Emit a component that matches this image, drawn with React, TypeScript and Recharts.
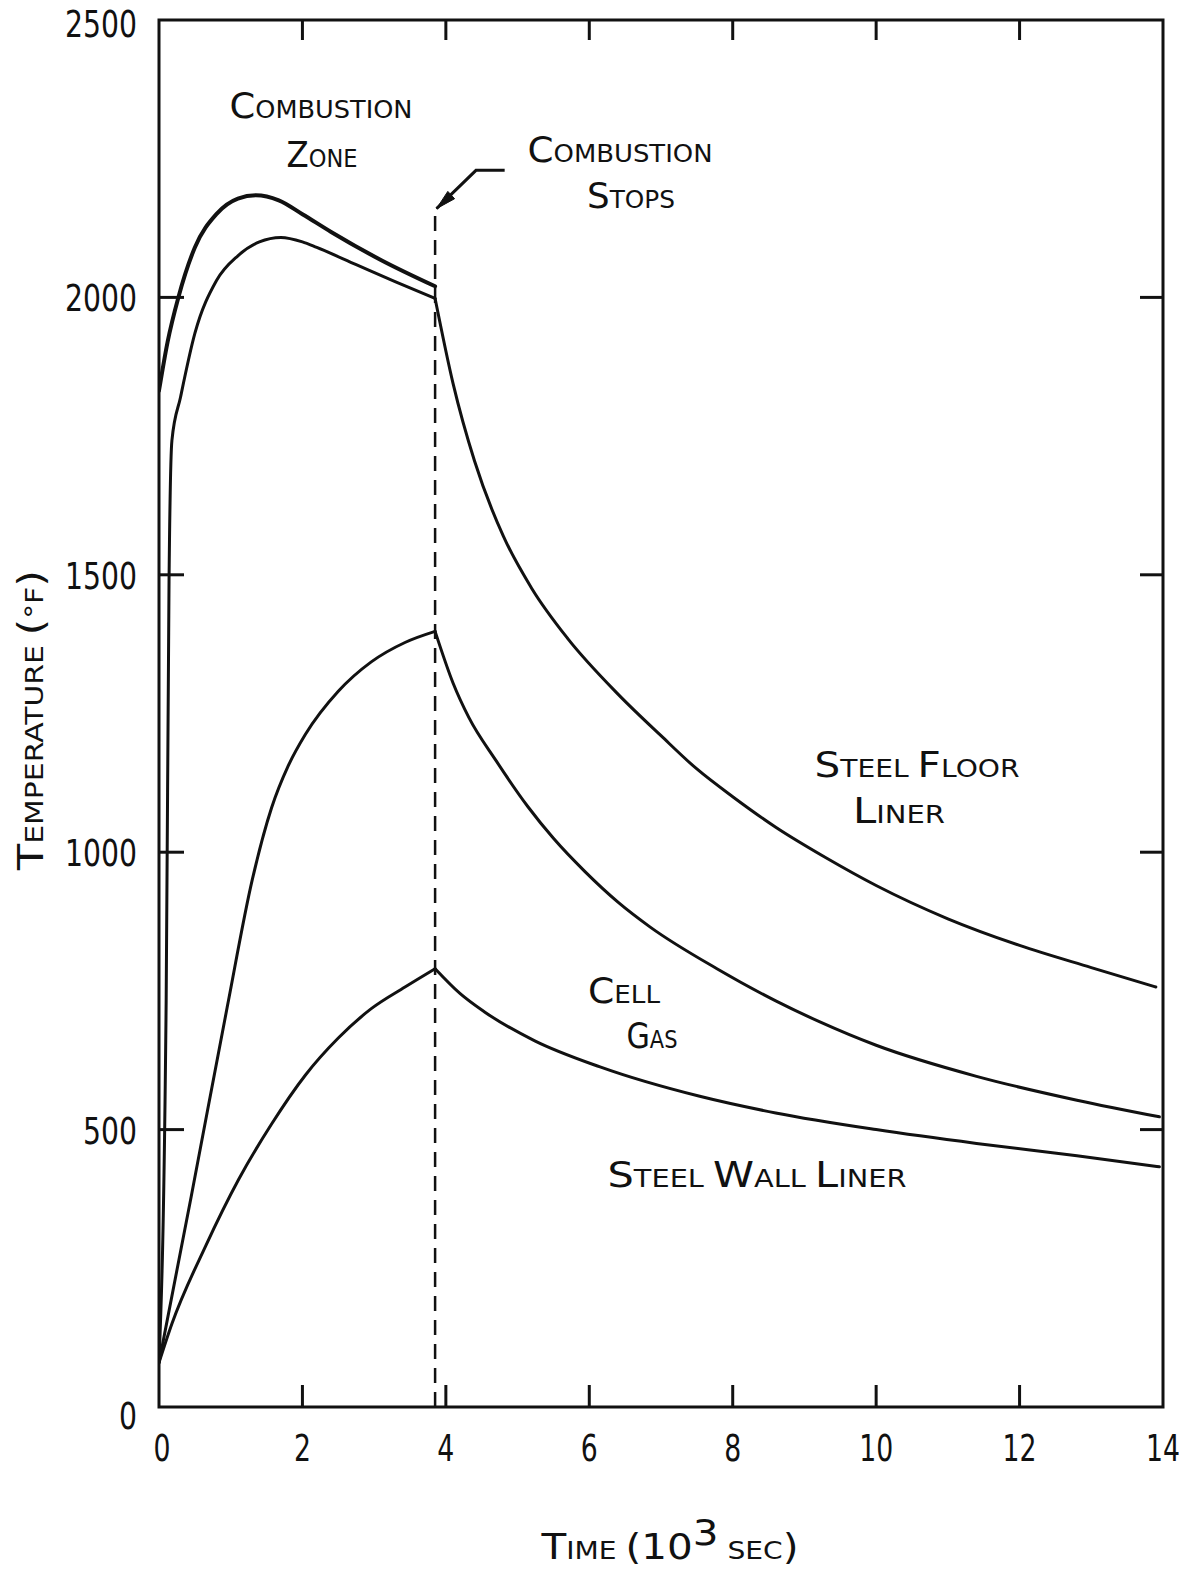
import React from 'react';
import { LineChart, Line, XAxis, YAxis, ReferenceArea, Customized } from 'recharts';

// ---- data (time in 10^3 sec, temperature in °F) ----
const timeTicks = [0, 2, 4, 6, 8, 10, 12, 14];
const tempTicks = [0, 500, 1000, 1500, 2000, 2500];

const combustionZone = [
  [0, 1832], [0.12, 1920], [0.27, 2000], [0.5, 2090], [0.8, 2150], [1.1, 2178],
  [1.35, 2184], [1.67, 2175], [2.0, 2150], [2.4, 2118], [3.1, 2067], [3.85, 2020],
];
const floorRise = [
  [0, 80], [0.1, 733], [0.14, 1490], [0.18, 1742], [0.3, 1820], [0.5, 1935], [0.8, 2030],
  [1.1, 2075], [1.4, 2100], [1.7, 2108], [2.0, 2100], [2.2, 2090], [2.75, 2059], [3.3, 2028], [3.85, 1998],
];
const floorDecay = [
  [3.85, 1998], [4.1, 1845], [4.4, 1705], [4.8, 1570], [5.2, 1475], [5.7, 1385], [6.4, 1285],
  [7.0, 1210], [7.5, 1150], [8.0, 1100], [8.6, 1045], [9.3, 990], [10, 940], [11, 880],
  [12, 832], [13, 792], [13.9, 757],
];
const gasRise = [
  [0, 80], [0.45, 380], [0.95, 720], [1.3, 950], [1.57, 1080], [1.8, 1155], [2.04, 1212],
  [2.5, 1290], [2.96, 1343], [3.43, 1378], [3.85, 1398],
];
const gasDecay = [
  [3.85, 1398], [4.1, 1305], [4.32, 1243], [4.7, 1165], [5.15, 1081], [5.5, 1025], [5.94, 965],
  [6.4, 910], [6.85, 865], [7.78, 790], [8.6, 732], [9.2, 695], [10, 652], [11.4, 596],
  [12.8, 553], [13.95, 523],
];
const wallRise = [
  [0, 80], [0.18, 150], [0.65, 290], [1.11, 410], [1.57, 510], [2.04, 598], [2.5, 665],
  [2.96, 718], [3.43, 757], [3.85, 790],
];
const wallDecay = [
  [3.85, 790], [4.2, 745], [4.54, 712], [5.24, 660], [6.15, 613], [7.54, 560], [8.6, 530],
  [10, 500], [11.4, 475], [12.8, 453], [13.95, 433],
];
const combustionStops = [[3.85, 0], [3.85, 2162]];
const stopsArrow = [[4.82, 2229], [4.42, 2229], [3.87, 2160]];

const pts = (a: number[][]) => a.map(([t, v]) => ({ t, v }));

// ---- layout (svg coordinates) ----
const W = 1179;
const H = 1564;
const PL = 151;
const PR = 1155;
const PT = 12;
const PB = 1399;
const INK = '#111';
const FONT = "'DejaVu Sans', 'Liberation Sans', sans-serif";
const BIG = 36;
const SMALL = 25;

type Part = { s: string; big?: boolean; dy?: number };
const CapsText = ({ x, y, parts, width, rotate }: { x: number; y: number; parts: Part[]; width: number; rotate?: boolean }) => (
  <text
    x={x}
    y={y}
    textAnchor="middle"
    textLength={width}
    lengthAdjust="spacingAndGlyphs"
    fill={INK}
    fontFamily={FONT}
    transform={rotate ? `rotate(-90 ${x} ${y})` : undefined}
  >
    {parts.map((p, i) => (
      <tspan key={i} fontSize={p.big ? BIG : SMALL} dy={p.dy}>{p.s}</tspan>
    ))}
  </text>
);

const annotations: { x: number; y: number; w: number; parts: Part[] }[] = [
  { x: 313, y: 110, w: 183, parts: [{ s: 'C', big: true }, { s: 'OMBUSTION' }] },
  { x: 314, y: 159, w: 71, parts: [{ s: 'Z', big: true }, { s: 'ONE' }] },
  { x: 612, y: 154, w: 185, parts: [{ s: 'C', big: true }, { s: 'OMBUSTION' }] },
  { x: 623, y: 200, w: 88, parts: [{ s: 'S', big: true }, { s: 'TOPS' }] },
  { x: 909, y: 769, w: 205, parts: [{ s: 'S', big: true }, { s: 'TEEL ' }, { s: 'F', big: true }, { s: 'LOOR' }] },
  { x: 891, y: 815, w: 92, parts: [{ s: 'L', big: true }, { s: 'INER' }] },
  { x: 616, y: 995, w: 72, parts: [{ s: 'C', big: true }, { s: 'ELL' }] },
  { x: 644, y: 1040, w: 51, parts: [{ s: 'G', big: true }, { s: 'AS' }] },
  { x: 749, y: 1179, w: 299, parts: [{ s: 'S', big: true }, { s: 'TEEL ' }, { s: 'W', big: true }, { s: 'ALL ' }, { s: 'L', big: true }, { s: 'INER' }] },
];

const Annotations = () => (
  <g>
    {annotations.map((a, i) => (
      <CapsText key={i} x={a.x} y={a.y} width={a.w} parts={a.parts} />
    ))}
    <CapsText
      x={35}
      y={712}
      width={300}
      rotate
      parts={[{ s: 'T', big: true }, { s: 'EMPERATURE ' }, { s: '(', big: true }, { s: '°F' }, { s: ')', big: true }]}
    />
    <CapsText
      x={662}
      y={1551}
      width={257}
      parts={[
        { s: 'T', big: true },
        { s: 'IME ' },
        { s: '(10', big: true },
        { s: '3', big: true, dy: -14 },
        { s: ' SEC', dy: 14 },
        { s: ')', big: true },
      ]}
    />
  </g>
);

const XTick = (props: any) => {
  const { x, payload } = props;
  const cx = payload?.coordinate ?? x;
  const v = payload.value as number;
  const label = String(v);
  return (
    <g>
      {v > 0 && v < 14 && (
        <>
          <line x1={cx} x2={cx} y1={PB} y2={PB - 22} stroke={INK} strokeWidth={3} />
          <line x1={cx} x2={cx} y1={PT} y2={PT + 20} stroke={INK} strokeWidth={3} />
        </>
      )}
      <text
        x={cx + (v === 0 ? 3 : 0)}
        y={1453}
        textAnchor="middle"
        fontSize={38}
        fontFamily={FONT}
        fill={INK}
        textLength={label.length * 17}
        lengthAdjust="spacingAndGlyphs"
      >
        {label}
      </text>
    </g>
  );
};

const YTick = (props: any) => {
  const { y, payload } = props;
  const cy = payload?.coordinate ?? y;
  const v = payload.value as number;
  const label = String(v);
  const shift = v === 0 ? 8 : v === 2500 ? 3 : 0;
  return (
    <g>
      {v > 0 && v < 2500 && (
        <>
          <line x1={PL} x2={PL + 25} y1={cy} y2={cy} stroke={INK} strokeWidth={3} />
          <line x1={PR} x2={PR - 23} y1={cy} y2={cy} stroke={INK} strokeWidth={3} />
        </>
      )}
      <text
        x={129}
        y={cy + 14 + shift}
        textAnchor="end"
        fontSize={38}
        fontFamily={FONT}
        fill={INK}
        textLength={label.length * 18}
        lengthAdjust="spacingAndGlyphs"
      >
        {label}
      </text>
    </g>
  );
};

const ArrowDot = (props: any) => {
  const { cx, cy, index } = props;
  if (index !== stopsArrow.length - 1 || cx == null) return <g key={`a${index}`} />;
  const ux = -0.734;
  const uy = 0.679;
  const bx = cx - 20 * ux;
  const by = cy - 20 * uy;
  const nx = 0.679;
  const ny = 0.734;
  const p = `${cx},${cy} ${bx + 5 * nx},${by + 5 * ny} ${bx - 5 * nx},${by - 5 * ny}`;
  return <polygon key={`a${index}`} points={p} fill={INK} stroke={INK} strokeWidth={1} />;
};

const curve = (key: string, data: number[][], width = 3) => (
  <Line
    key={key}
    data={pts(data)}
    dataKey="v"
    type="monotone"
    stroke={INK}
    strokeWidth={width}
    dot={false}
    activeDot={false}
    isAnimationActive={false}
    strokeLinejoin="round"
    strokeLinecap="round"
  />
);

export default function App() {
  return (
    <div style={{ width: W, height: H, background: '#fff' }}>
      <LineChart width={W} height={H} margin={{ top: PT, right: W - PR, bottom: 0, left: 0 }}>
        <XAxis
          type="number"
          dataKey="t"
          domain={[0, 14]}
          ticks={timeTicks}
          interval={0}
          axisLine={false}
          tickLine={false}
          height={H - PB}
          tick={XTick}
          allowDataOverflow
        />
        <YAxis
          type="number"
          domain={[0, 2500]}
          ticks={tempTicks}
          interval={0}
          axisLine={false}
          tickLine={false}
          width={PL}
          tick={YTick}
          allowDataOverflow
        />
        <ReferenceArea x1={0} x2={14} y1={0} y2={2500} fill="none" fillOpacity={0} stroke={INK} strokeWidth={3} ifOverflow="visible" />
        {curve('combustion', combustionZone, 4)}
        {curve('floorRise', floorRise)}
        {curve('floorDecay', floorDecay)}
        {curve('gasRise', gasRise)}
        {curve('gasDecay', gasDecay)}
        {curve('wallRise', wallRise)}
        {curve('wallDecay', wallDecay)}
        <Line
          data={pts(combustionStops)}
          dataKey="v"
          type="linear"
          stroke={INK}
          strokeWidth={2.5}
          strokeDasharray="15 9"
          dot={false}
          activeDot={false}
          isAnimationActive={false}
        />
        <Line
          data={pts(stopsArrow)}
          dataKey="v"
          type="linear"
          stroke={INK}
          strokeWidth={3}
          dot={ArrowDot}
          activeDot={false}
          isAnimationActive={false}
        />
        <Customized component={Annotations} />
      </LineChart>
    </div>
  );
}
